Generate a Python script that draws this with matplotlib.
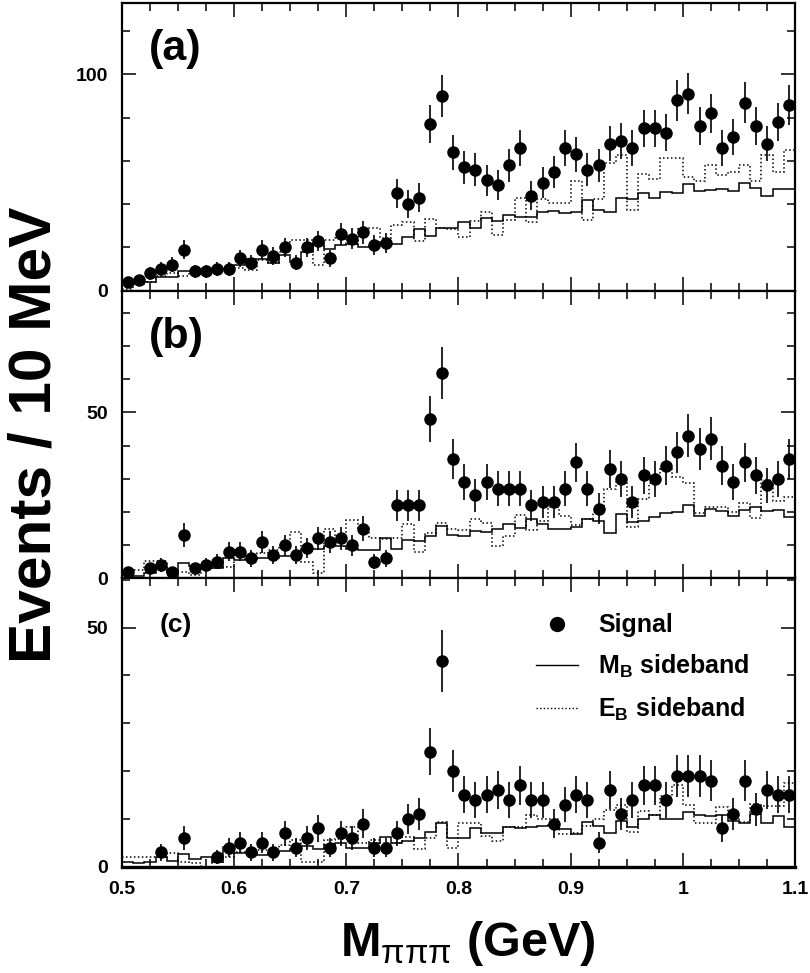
import numpy as np
import matplotlib
matplotlib.use("Agg")
import matplotlib.pyplot as plt
from matplotlib.lines import Line2D
from matplotlib.ticker import MultipleLocator, FuncFormatter

plt.rcParams['font.family'] = ['Liberation Sans', 'DejaVu Sans']
plt.rcParams['font.weight'] = 'bold'
plt.rcParams['mathtext.fontset'] = 'custom'
plt.rcParams['mathtext.rm'] = 'Liberation Sans:normal'
plt.rcParams['mathtext.it'] = 'Liberation Sans:normal'
plt.rcParams['mathtext.bf'] = 'Liberation Sans:bold'

# 10 MeV bins from 0.5 to 1.1 GeV
edges = np.linspace(0.5, 1.1, 61)
centers = 0.5 * (edges[:-1] + edges[1:])

# panel (a)
sig_a = [4, 5, 8, 10, 12, 19, 9, 9, 10, 10, 15, 13, 19, 16, 20, 13, 20, 23, 15, 26,
         24, 27, 21, 22, 45, 40, 43, 77, 90, 64, 57, 56, 51, 49, 58, 66, 44, 50, 55, 66,
         63, 56, 58, 68, 69, 66, 75, 75, 73, 88, 91, 76, 82, 66, 71, 87, 76, 68, 78, 86]
mb_a = [3, 3, 4, 6.5, 6.5, 9, 9, 9, 10, 10, 12, 14.5, 14.5, 12.6, 16.5, 13.4, 17.7, 21.4, 19.5, 21,
        21.4, 20.3, 20.8, 22.6, 21.4, 24.9, 28.3, 25.4, 28.8, 29.2, 31.7, 29.2, 33.8, 32.3, 34.8, 34.2, 34.2, 36.6, 36.9, 36,
        36.3, 41.8, 37.2, 36.3, 43, 42.2, 45.2, 43, 45.7, 45.2, 49.5, 46, 46.5, 47.2, 46, 49.8, 47.7, 43.7, 46.8, 47.2]
eb_a = [1, 3, 4, 7, 8.3, 6.6, 9, 9, 9.5, 10, 10.6, 9.5, 14.2, 12.6, 18, 23.4, 23.4, 11.8, 23.4, 24.2,
        21.4, 29, 29, 24.2, 30.6, 31.8, 22.9, 33, 28.8, 28.3, 24.9, 32.3, 36.5, 25.7, 32.6, 43, 31.8, 42.6, 40.6, 40.6,
        50.6, 32.6, 42.6, 59, 62.6, 37.2, 53.8, 51.8, 61.5, 61.5, 52.6, 50.6, 58, 53.4, 55, 58, 50.6, 62.6, 55, 65]

# panel (b)
sig_b = [2, 0, 3, 4, 2, 13, 3, 4, 5, 8, 8, 6, 11, 7, 10, 7, 9, 12, 11, 12,
         10, 15, 5, 6, 22, 22, 22, 48, 62, 36, 29, 25, 29, 27, 27, 27, 22, 23, 23, 27,
         35, 27, 21, 33, 30, 23, 31, 30, 34, 38, 43, 39, 42, 34, 29, 35, 31, 28, 30, 36]
mb_b = [1.2, 0.8, 1.7, 3, 2, 4.7, 3.7, 4, 3.2, 6, 5.5, 5.7, 6, 6, 6.8, 6.8, 8.7, 8.8, 9.7, 9.7,
        8.7, 8.5, 8.5, 12, 8.7, 11.5, 11.3, 12.8, 15.9, 13.2, 12.8, 14.4, 13.9, 15, 16.3, 15.3, 17.8, 16.3, 14.8, 14.8,
        15.4, 17.8, 17.4, 13.6, 19.3, 16.9, 17.4, 18.4, 19.6, 20.1, 22.1, 18.9, 20.8, 20.3, 18.9, 20.6, 21.4, 20.4, 20.6, 18.4]
eb_b = [2.5, 2.5, 5.3, 5.3, 2, 2, 1, 3, 3.2, 3.5, 7.5, 6.5, 7.5, 8.5, 10, 14, 5, 1.7, 14.8, 12.8,
        17.6, 15.3, 12, 11.7, 12, 16.3, 8, 13.8, 16.6, 14.8, 14.6, 18, 16.6, 9.8, 12.8, 19, 14.6, 17.4, 21.6, 18.9,
        16, 18, 20, 27, 29, 15.4, 24, 28.8, 33, 30.4, 28.8, 19.8, 21.4, 21.4, 20, 22.6, 18.3, 29.6, 23.4, 24.4]

# panel (c)
sig_c = [0, 0, 0, 3, 0, 6, 0, 0, 2, 4, 5, 3, 5, 3, 7, 4, 6, 8, 4, 7,
         6, 9, 4, 4, 7, 10, 11, 24, 43, 20, 15, 14, 15, 16, 14, 17, 14, 14, 9, 13,
         15, 14, 5, 16, 11, 14, 17, 17, 14, 19, 19, 19, 18, 8, 11, 18, 12, 16, 15, 15]
mb_c = [1, 0.7, 1, 2.1, 1.2, 2.6, 1.7, 2.1, 1, 4.2, 2.8, 2.9, 2.4, 2.8, 3.3, 3.6, 4.3, 3.8, 4.5, 4.9,
        4, 4, 4.9, 6.3, 5, 5.4, 5.9, 7.3, 9.2, 6.1, 6.1, 8, 7.1, 7.1, 8.4, 8, 8.4, 8.5, 8.8, 7.8,
        6.8, 9.3, 8.5, 7.1, 9.5, 8.4, 9.9, 10.9, 9.9, 9.9, 11.5, 10.8, 10.5, 10.8, 9.5, 9.2, 11.1, 9.2, 10.5, 8.2]
eb_c = [2, 2, 2, 2, 2.8, 1, 0.7, 0, 1, 2.1, 3, 3, 3.5, 3.6, 4.5, 5.6, 1, 1, 5.6, 5.7,
        8.4, 4.9, 5.6, 4.9, 4.9, 6.3, 3.8, 5.9, 9.4, 4, 9.1, 9.1, 6.4, 5.4, 8.2, 8.2, 10.9, 9.9, 9.9, 6.8,
        7.1, 8.5, 9.9, 11.8, 12.9, 7.3, 11.6, 10.8, 14.8, 17, 12.9, 9.2, 9.1, 12.5, 10.6, 9.4, 13.2, 12.7, 12.7, 17.5]

panels = [
    ("(a)", sig_a, mb_a, eb_a, 133, 100, 20),
    ("(b)", sig_b, mb_b, eb_b, 86.7, 50, 10),
    ("(c)", sig_c, mb_c, eb_c, 60.3, 50, 10),
]

W, H = 810, 973
fig = plt.figure(figsize=(W / 100, H / 100), dpi=100)

left, right = 122 / W, 795 / W
tops = [3, 290.7, 578.3]
bottoms = [290.7, 578.3, 866.7]

axes = []
for k, (tag, sig, mb, eb, ymax, major, minor) in enumerate(panels):
    ax = fig.add_axes([left, 1 - bottoms[k] / H, right - left, (bottoms[k] - tops[k]) / H])
    sig = np.array(sig, dtype=float)
    keep = sig > 0
    ax.stairs(mb, edges, baseline=None, color='k', lw=1.1, ls='-')
    ax.stairs(eb, edges, baseline=None, color='k', lw=1.1, ls=(0, (1, 1.6)))
    ax.errorbar(centers[keep], sig[keep], yerr=np.sqrt(sig[keep]), fmt='o', color='k',
                ms=8, elinewidth=1.2, capsize=0)
    ax.set_xlim(0.5, 1.1)
    ax.set_ylim(0, ymax)
    ax.xaxis.set_major_locator(MultipleLocator(0.1))
    ax.xaxis.set_minor_locator(MultipleLocator(0.025))
    ax.yaxis.set_major_locator(MultipleLocator(major))
    ax.yaxis.set_minor_locator(MultipleLocator(minor))
    ax.tick_params(which='both', direction='in', top=True, right=True, labelsize=14)
    ax.tick_params(which='major', length=10, width=1.1, pad=10)
    ax.tick_params(which='minor', length=5.5, width=1.1)
    for s in ax.spines.values():
        s.set_linewidth(1.6)
    if k < 2:
        ax.tick_params(labelbottom=False)
    else:
        ax.xaxis.set_major_formatter(FuncFormatter(lambda v, p: f"{v:g}"))
    if tag == "(c)":
        ax.text(0.056, 0.838, tag, transform=ax.transAxes, fontsize=19, fontweight='bold', va='center')
    else:
        ax.text(0.040, 0.84, tag, transform=ax.transAxes, fontsize=31, fontweight='bold', va='center')
    axes.append(ax)

axes[2].spines['bottom'].set_linewidth(2.4)

handles = [
    Line2D([], [], marker='o', ls='none', color='k', ms=10),
    Line2D([], [], color='k', lw=1.0),
    Line2D([], [], color='k', lw=1.0, ls=(0, (1, 1.6))),
]
labels = ["Signal", r"M$_\mathbf{B}$ sideband", r"E$_\mathbf{B}$ sideband"]
axes[2].legend(handles, labels, loc='upper left', bbox_to_anchor=(0.615, 0.878),
               frameon=False, handlelength=1.7, handletextpad=0.8,
               labelspacing=0.62, borderaxespad=0, borderpad=0,
               prop={'weight': 'bold', 'size': 18})

fig.text(0.043, 1 - 435 / H, "Events / 10 MeV", rotation=90, ha='center', va='center',
         fontsize=43.5, fontweight='bold')
fig.text(0.577, 1 - 944 / H, r"M$_{\pi\pi\pi}$ (GeV)", ha='center', va='center',
         fontsize=35, fontweight='bold')

fig.savefig("out.png", dpi=100)
